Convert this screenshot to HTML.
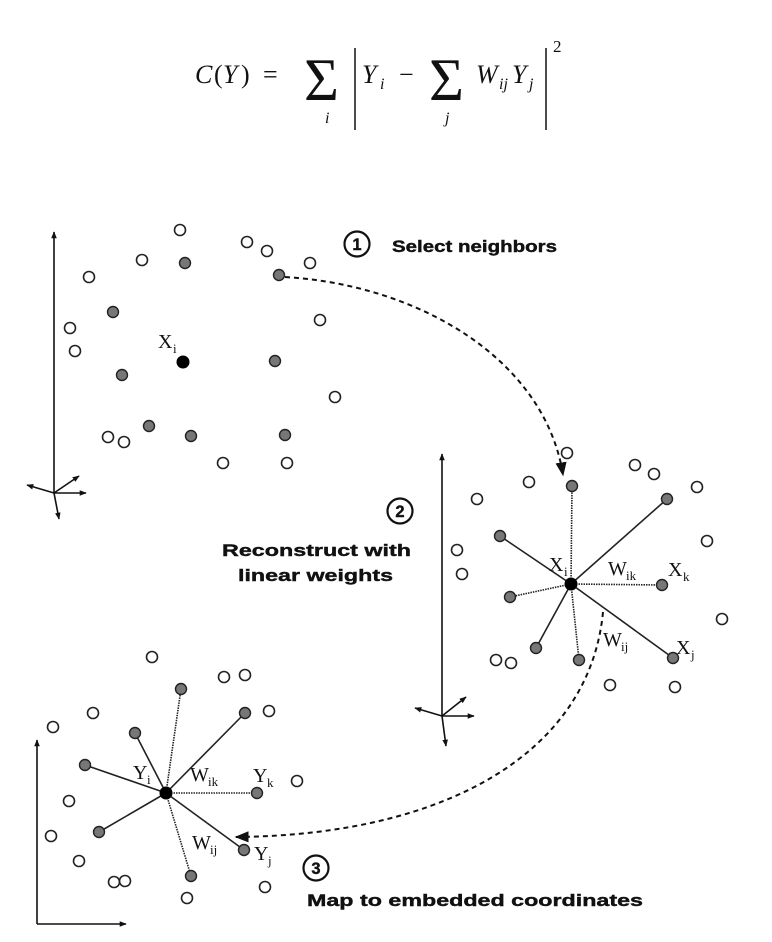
<!DOCTYPE html>
<html><head><style>
html,body{margin:0;padding:0;background:#fff;}
svg{display:block;}
.o{fill:#fff;stroke:#222;stroke-width:1.6;}
.g{fill:#777;stroke:#222;stroke-width:1.4;}
.ax{stroke:#111;stroke-width:1.6;fill:none;}
.lab{font-family:"Liberation Serif",serif;font-size:20px;fill:#111;}
.sub{font-family:"Liberation Serif",serif;font-size:13px;fill:#111;}
.b{font-family:"Liberation Sans",sans-serif;font-weight:bold;font-size:16.5px;fill:#111;stroke:#111;stroke-width:0.4;}
.m{font-family:"Liberation Serif",serif;font-style:italic;fill:#111;}
.mr{font-family:"Liberation Serif",serif;fill:#111;}
</style></head><body>
<svg width="772" height="942" viewBox="0 0 772 942" xmlns="http://www.w3.org/2000/svg">
<defs>
<marker id="ah" viewBox="0 0 10 10" refX="9" refY="5" markerWidth="7" markerHeight="7" orient="auto-start-reverse" markerUnits="userSpaceOnUse"><path d="M0,1 L10,5 L0,9 z" fill="#111"/></marker>
<marker id="ab" viewBox="0 0 10 10" refX="9" refY="5" markerWidth="14" markerHeight="14" orient="auto" markerUnits="userSpaceOnUse"><path d="M0,1 L10,5 L0,9 z" fill="#111"/></marker>
</defs>
<!-- formula -->
<text class="m" x="195" y="83" font-size="26">C</text>
<text class="mr" x="214" y="83" font-size="26">(</text>
<text class="m" x="223" y="83" font-size="26">Y</text>
<text class="mr" x="241" y="83" font-size="26">)</text>
<text class="mr" x="263" y="83" font-size="26">=</text>
<text class="mr" x="304" y="100" font-size="60">Σ</text>
<text class="m" x="325" y="123" font-size="16">i</text>
<line x1="355" y1="48" x2="355" y2="130" stroke="#111" stroke-width="1.5"/>
<text class="m" x="362" y="83" font-size="26">Y</text>
<text class="m" x="380" y="89" font-size="16">i</text>
<text class="mr" x="399" y="83" font-size="26">−</text>
<text class="mr" x="429" y="100" font-size="60">Σ</text>
<text class="m" x="445" y="123" font-size="16">j</text>
<text class="m" x="476" y="83" font-size="26">W</text>
<text class="m" x="499" y="89" font-size="16">ij</text>
<text class="m" x="512" y="83" font-size="26">Y</text>
<text class="m" x="529" y="89" font-size="16">j</text>
<line x1="546" y1="48" x2="546" y2="130" stroke="#111" stroke-width="1.5"/>
<text class="mr" x="553" y="52" font-size="17">2</text>

<!-- panel 1 axes -->
<line class="ax" x1="54" y1="493" x2="54" y2="232" marker-end="url(#ah)"/>
<line class="ax" x1="54" y1="493" x2="86" y2="493" marker-end="url(#ah)"/>
<line class="ax" x1="54" y1="493" x2="79" y2="476" marker-end="url(#ah)"/>
<line class="ax" x1="54" y1="493" x2="27" y2="485" marker-end="url(#ah)"/>
<line class="ax" x1="54" y1="493" x2="59" y2="519" marker-end="url(#ah)"/>
<g>
<circle class="o" cx="180" cy="230" r="5.5"/><circle class="o" cx="247" cy="242" r="5.5"/><circle class="o" cx="267" cy="251" r="5.5"/><circle class="o" cx="310" cy="263" r="5.5"/><circle class="o" cx="89" cy="277" r="5.5"/><circle class="o" cx="142" cy="260" r="5.5"/><circle class="o" cx="70" cy="328" r="5.5"/><circle class="o" cx="75" cy="351" r="5.5"/><circle class="o" cx="320" cy="320" r="5.5"/><circle class="o" cx="335" cy="397" r="5.5"/><circle class="o" cx="108" cy="437" r="5.5"/><circle class="o" cx="124" cy="442" r="5.5"/><circle class="o" cx="223" cy="463" r="5.5"/><circle class="o" cx="287" cy="463" r="5.5"/>
<circle class="g" cx="185" cy="263" r="5.5"/><circle class="g" cx="113" cy="312" r="5.5"/><circle class="g" cx="279" cy="275" r="5.5"/><circle class="g" cx="122" cy="375" r="5.5"/><circle class="g" cx="275" cy="361" r="5.5"/><circle class="g" cx="149" cy="426" r="5.5"/><circle class="g" cx="191" cy="436" r="5.5"/><circle class="g" cx="285" cy="435" r="5.5"/>
<circle cx="183" cy="362" r="6.5" fill="#000"/>
</g>
<text class="lab" x="158" y="348">X</text><text class="sub" x="173" y="353">i</text>

<!-- labels -->
<circle cx="357" cy="244" r="12.5" fill="none" stroke="#111" stroke-width="2.2"/>
<text class="b" x="357" y="250" text-anchor="middle" font-size="16">1</text>
<text class="b" x="392" y="252" font-size="17" textLength="165" lengthAdjust="spacingAndGlyphs">Select neighbors</text>
<circle cx="400" cy="511" r="12.5" fill="none" stroke="#111" stroke-width="2.2"/>
<text class="b" x="400" y="517" text-anchor="middle" font-size="16">2</text>
<text class="b" x="222" y="556" font-size="19" textLength="189" lengthAdjust="spacingAndGlyphs">Reconstruct with</text>
<text class="b" x="238" y="581" font-size="19" textLength="155" lengthAdjust="spacingAndGlyphs">linear weights</text>
<circle cx="316" cy="868" r="12.5" fill="none" stroke="#111" stroke-width="2.2"/>
<text class="b" x="316" y="874" text-anchor="middle" font-size="16">3</text>
<text class="b" x="307" y="906" font-size="19" textLength="336" lengthAdjust="spacingAndGlyphs">Map to embedded coordinates</text>

<!-- curve 1 -->
<path d="M285,277 C420,285 545,360 563,475" fill="none" stroke="#111" stroke-width="2" stroke-dasharray="5,4" marker-end="url(#ab)"/>

<!-- panel 2 axes -->
<line class="ax" x1="442" y1="716" x2="442" y2="454" marker-end="url(#ah)"/>
<line class="ax" x1="442" y1="716" x2="474" y2="716" marker-end="url(#ah)"/>
<line class="ax" x1="442" y1="716" x2="466" y2="697" marker-end="url(#ah)"/>
<line class="ax" x1="442" y1="716" x2="415" y2="708" marker-end="url(#ah)"/>
<line class="ax" x1="442" y1="716" x2="446" y2="746" marker-end="url(#ah)"/>
<!-- panel 2 -->
<g stroke="#222" stroke-width="1.6">
<line x1="571" y1="584" x2="572" y2="486" stroke-dasharray="1.5,1"/>
<line x1="571" y1="584" x2="667" y2="499"/>
<line x1="571" y1="584" x2="500" y2="536"/>
<line x1="571" y1="584" x2="510" y2="597" stroke-dasharray="1.5,1"/>
<line x1="571" y1="584" x2="662" y2="585" stroke-dasharray="1.5,1"/>
<line x1="571" y1="584" x2="536" y2="648"/>
<line x1="571" y1="584" x2="579" y2="660" stroke-dasharray="1.5,1"/>
<line x1="571" y1="584" x2="673" y2="658"/>
</g>
<g>
<circle class="o" cx="567" cy="453" r="5.5"/><circle class="o" cx="635" cy="465" r="5.5"/><circle class="o" cx="654" cy="474" r="5.5"/><circle class="o" cx="697" cy="487" r="5.5"/><circle class="o" cx="477" cy="499" r="5.5"/><circle class="o" cx="529" cy="482" r="5.5"/><circle class="o" cx="457" cy="550" r="5.5"/><circle class="o" cx="462" cy="574" r="5.5"/><circle class="o" cx="707" cy="541" r="5.5"/><circle class="o" cx="722" cy="619" r="5.5"/><circle class="o" cx="496" cy="660" r="5.5"/><circle class="o" cx="511" cy="663" r="5.5"/><circle class="o" cx="610" cy="685" r="5.5"/><circle class="o" cx="675" cy="687" r="5.5"/>
<circle class="g" cx="572" cy="486" r="5.5"/><circle class="g" cx="667" cy="499" r="5.5"/><circle class="g" cx="500" cy="536" r="5.5"/><circle class="g" cx="510" cy="597" r="5.5"/><circle class="g" cx="662" cy="585" r="5.5"/><circle class="g" cx="536" cy="648" r="5.5"/><circle class="g" cx="579" cy="660" r="5.5"/><circle class="g" cx="673" cy="658" r="5.5"/>
<circle cx="571" cy="584" r="6.5" fill="#000"/>
</g>
<text class="lab" x="549" y="571">X</text><text class="sub" x="564" y="576">i</text>
<text class="lab" x="608" y="575">W</text><text class="sub" x="626" y="580">ik</text>
<text class="lab" x="668" y="576">X</text><text class="sub" x="683" y="581">k</text>
<text class="lab" x="603" y="646">W</text><text class="sub" x="621" y="651">ij</text>
<text class="lab" x="676" y="654">X</text><text class="sub" x="691" y="659">j</text>

<!-- curve 2 -->
<path d="M603,612 C590,750 450,835 236,837" fill="none" stroke="#111" stroke-width="2" stroke-dasharray="5,4" marker-end="url(#ab)"/>

<!-- panel 3 axes -->
<line class="ax" x1="37" y1="924" x2="37" y2="740" marker-end="url(#ah)"/>
<line class="ax" x1="37" y1="924" x2="126" y2="924" marker-end="url(#ah)"/>
<g stroke="#222" stroke-width="1.6">
<line x1="166" y1="793" x2="181" y2="689" stroke-dasharray="1.5,1"/>
<line x1="166" y1="793" x2="245" y2="713"/>
<line x1="166" y1="793" x2="135" y2="733"/>
<line x1="166" y1="793" x2="85" y2="765"/>
<line x1="166" y1="793" x2="257" y2="793" stroke-dasharray="1.5,1"/>
<line x1="166" y1="793" x2="99" y2="832"/>
<line x1="166" y1="793" x2="244" y2="850"/>
<line x1="166" y1="793" x2="191" y2="876" stroke-dasharray="1.5,1"/>
</g>
<g>
<circle class="o" cx="152" cy="657" r="5.5"/><circle class="o" cx="224" cy="677" r="5.5"/><circle class="o" cx="245" cy="675" r="5.5"/><circle class="o" cx="269" cy="711" r="5.5"/><circle class="o" cx="53" cy="727" r="5.5"/><circle class="o" cx="93" cy="713" r="5.5"/><circle class="o" cx="297" cy="781" r="5.5"/><circle class="o" cx="69" cy="801" r="5.5"/><circle class="o" cx="51" cy="836" r="5.5"/><circle class="o" cx="79" cy="861" r="5.5"/><circle class="o" cx="114" cy="882" r="5.5"/><circle class="o" cx="125" cy="881" r="5.5"/><circle class="o" cx="187" cy="898" r="5.5"/><circle class="o" cx="265" cy="887" r="5.5"/>
<circle class="g" cx="181" cy="689" r="5.5"/><circle class="g" cx="245" cy="713" r="5.5"/><circle class="g" cx="135" cy="733" r="5.5"/><circle class="g" cx="85" cy="765" r="5.5"/><circle class="g" cx="257" cy="793" r="5.5"/><circle class="g" cx="99" cy="832" r="5.5"/><circle class="g" cx="244" cy="850" r="5.5"/><circle class="g" cx="191" cy="876" r="5.5"/>
<circle cx="166" cy="793" r="6.5" fill="#000"/>
</g>
<text class="lab" x="133" y="779">Y</text><text class="sub" x="147" y="784">i</text>
<text class="lab" x="190" y="781">W</text><text class="sub" x="208" y="786">ik</text>
<text class="lab" x="253" y="782">Y</text><text class="sub" x="267" y="787">k</text>
<text class="lab" x="192" y="849">W</text><text class="sub" x="210" y="854">ij</text>
<text class="lab" x="254" y="860">Y</text><text class="sub" x="268" y="865">j</text>
</svg>
</body></html>
